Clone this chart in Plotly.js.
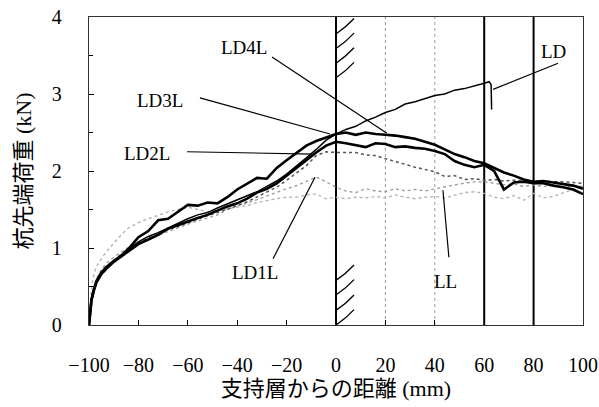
<!DOCTYPE html>
<html>
<head>
<meta charset="utf-8">
<script src="https://cdn.plot.ly/plotly-3.0.1.min.js"></script>
<style>html,body{margin:0;padding:0;background:#fff;}#chart{width:599px;height:407px;}</style>
</head>
<body>
<div id="chart"></div>
<script>
// ---- data ----
const xGrid = [
  -100,-99.5,-99,-98,-97,-95,-93,-90,-87,-84,
  -80,-76,-72,-68,-64,-60,-56,-52,-48,-44,
  -40,-36,-32,-28,-24,-20,-16,-12,-8,-4,
  0,4,8,12,16,20,24,28,32,36,
  40,44,48,52,56,60,64,68,72,76,
  80,84,88,92,96,100
];
const ld4l = [
  0,0.2,0.33,0.47,0.57,0.68,0.75,0.83,0.9,0.99,
  1.14,1.22,1.36,1.38,1.47,1.56,1.55,1.59,1.58,1.66,
  1.76,1.84,1.91,1.9,2.04,2.14,2.24,2.33,2.39,2.44,
  2.48,2.5,2.47,2.5,2.48,2.47,2.46,2.44,2.42,2.38,
  2.34,2.28,2.22,2.18,2.13,2.1,2.04,1.98,1.94,1.89,
  1.86,1.87,1.85,1.83,1.81,1.77
];
const ld3l = [
  0,0.19,0.32,0.45,0.55,0.66,0.73,0.82,0.89,0.96,
  1.05,1.11,1.17,1.25,1.3,1.34,1.39,1.43,1.49,1.54,
  1.58,1.64,1.72,1.77,1.84,1.94,2.05,2.14,2.24,2.33,
  2.38,2.36,2.33,2.31,2.36,2.35,2.31,2.32,2.3,2.29,
  2.26,2.22,2.13,2.08,2.05,2.08,2.0,1.76,1.85,1.86,
  1.84,1.84,1.81,1.79,1.76,1.7
];
const ldX = [
  -100,-99.5,-99,-98,-97,-95,-93,-90,-87,-84,
  -80,-76,-72,-68,-64,-60,-56,-52,-48,-44,
  -40,-36,-32,-28,-24,-20,-16,-12,-8,-4,
  0,4,8,12,16,20,24,28,32,36,
  40,44,48,52,56,60,62,62.8,63
];
const ldY = [
  0,0.19,0.33,0.46,0.56,0.67,0.74,0.83,0.9,0.98,
  1.08,1.15,1.2,1.26,1.33,1.38,1.43,1.46,1.52,1.57,
  1.62,1.67,1.73,1.8,1.87,1.96,2.06,2.17,2.28,2.4,
  2.48,2.54,2.58,2.65,2.7,2.76,2.8,2.87,2.9,2.94,
  2.98,3.0,3.05,3.07,3.1,3.14,3.16,3.12,2.8
];
const ld2l = [
  0,0.2,0.34,0.47,0.57,0.68,0.76,0.84,0.92,0.99,
  1.07,1.13,1.18,1.24,1.28,1.33,1.38,1.42,1.46,1.5,
  1.55,1.6,1.66,1.72,1.79,1.88,1.97,2.07,2.2,2.25,
  2.24,2.24,2.24,2.21,2.2,2.16,2.12,2.08,2.05,2.02,
  1.99,1.93,1.94,1.89,1.9,1.88,1.89,1.87,1.88,1.87,
  1.87,1.87,1.86,1.86,1.85,1.84
];
const ld1l = [
  0,0.21,0.36,0.5,0.6,0.72,0.8,0.88,0.95,1.01,
  1.07,1.12,1.17,1.22,1.27,1.31,1.35,1.39,1.43,1.5,
  1.55,1.58,1.63,1.68,1.72,1.77,1.81,1.86,1.92,1.86,
  1.79,1.74,1.72,1.77,1.74,1.73,1.77,1.74,1.76,1.74,
  1.77,1.79,1.82,1.84,1.86,1.86,1.84,1.82,1.83,1.8,
  1.82,1.8,1.81,1.79,1.81,1.8
];
const ll = [
  0,0.3,0.5,0.66,0.76,0.86,0.95,1.06,1.17,1.26,
  1.33,1.38,1.43,1.47,1.5,1.53,1.5,1.47,1.49,1.51,
  1.53,1.55,1.59,1.62,1.64,1.66,1.66,1.69,1.7,1.64,
  1.66,1.64,1.66,1.65,1.67,1.65,1.69,1.66,1.64,1.66,
  1.67,1.65,1.69,1.72,1.73,1.71,1.66,1.64,1.68,1.62,
  1.71,1.65,1.67,1.72,1.76,1.78
];
const xTicks = [-100,-80,-60,-40,-20,0,20,40,60,80,100];
const yTicks = [0,1,2,3,4];
const solidBoundX = [0,60,80];
const dottedBoundX = [20,40];

// labels and leader lines (data coordinates)
const labelText = ['LD4L','LD3L','LD2L','LD1L','LL','LD'];
const labelX = [-37.2,-71.3,-76.5,-32.8,44.5,87.9];
const labelY = [3.61,2.92,2.23,0.68,0.56,3.55];
const leadX0 = [-25.9,-55.1,-60.3,-25.5,45.7,89.9];
const leadY0 = [3.48,2.95,2.25,0.86,0.88,3.40];
const leadX1 = [20.6,-2.4,-9.7,-8.5,43.3,63.6];
const leadY1 = [2.49,2.48,2.22,1.92,1.75,3.06];

const serif = '"Liberation Serif", "Times New Roman", serif';
const cjk = '"Liberation Serif", "Noto Sans CJK JP", serif';

const traces = [
  {x: xGrid, y: ll, name: 'LL', mode: 'lines', line: {color: '#b0b0b0', width: 1.3, dash: 'dot'}},
  {x: xGrid, y: ld1l, name: 'LD1L', mode: 'lines', line: {color: '#9a9a9a', width: 1.3, dash: 'dot'}},
  {x: xGrid, y: ld2l, name: 'LD2L', mode: 'lines', line: {color: '#555', width: 1.5, dash: 'dot'}},
  {x: ldX, y: ldY, name: 'LD', mode: 'lines', line: {color: '#000', width: 1.5}},
  {x: xGrid, y: ld3l, name: 'LD3L', mode: 'lines', line: {color: '#000', width: 2.6}},
  {x: xGrid, y: ld4l, name: 'LD4L', mode: 'lines', line: {color: '#000', width: 2.6}}
];

const shapes = [];
solidBoundX.forEach(v => shapes.push({type:'line', xref:'x', yref:'paper', x0:v, x1:v, y0:0, y1:1, layer:'below', line:{color:'#000', width:2}}));
dottedBoundX.forEach(v => shapes.push({type:'line', xref:'x', yref:'paper', x0:v, x1:v, y0:0, y1:1, layer:'below', line:{color:'#999', width:1, dash:'dot'}}));
// hatching marks on the x=0 boundary (decoration)
const hatchTop = [3.21, 3.40, 3.59, 3.78];
const hatchBottom = [0.0, 0.19, 0.39, 0.58];
hatchTop.concat(hatchBottom).forEach(y0 => {
  const y1 = y0 + 0.2;
  shapes.push({type:'path', xref:'x', yref:'y',
    path: 'M 0,' + y0 + ' Q 4,' + (y0 + 0.085) + ' 7.3,' + y1,
    line:{color:'#000', width:1.3}});
});
labelText.forEach((t, i) => shapes.push({type:'line', xref:'x', yref:'y',
  x0: leadX0[i], y0: leadY0[i], x1: leadX1[i], y1: leadY1[i], line:{color:'#000', width:1.2}}));

const annotations = labelText.map((t, i) => ({
  x: labelX[i], y: labelY[i], xref:'x', yref:'y', text: t, showarrow: false,
  font: {family: serif, size: 19, color: '#000'}
}));

const layout = {
  width: 599, height: 407,
  margin: {l: 89, r: 16, t: 17, b: 82},
  paper_bgcolor: '#fff', plot_bgcolor: '#fff',
  showlegend: false,
  xaxis: {
    range: [-100, 100], tickvals: xTicks, ticks: 'inside', ticklen: 5, tickcolor: '#000',
    showline: true, mirror: true, linecolor: '#333', linewidth: 1.3,
    showgrid: false, zeroline: false, ticklabelstandoff: 22,
    tickfont: {family: serif, size: 20, color: '#000'},
    title: {text: '支持層からの距離 (mm)', font: {family: cjk, size: 22, color: '#000'}, standoff: 5}
  },
  yaxis: {
    range: [0, 4], tickvals: yTicks, ticks: 'inside', ticklen: 5, tickcolor: '#000',
    minor: {dtick: 0.5, ticks: 'inside', ticklen: 4, tickcolor: '#000', showgrid: false},
    showline: true, mirror: true, linecolor: '#333', linewidth: 1.3,
    showgrid: false, zeroline: false, ticklabelstandoff: 22,
    tickfont: {family: serif, size: 20, color: '#000'},
    title: {text: '杭先端荷重 (kN)', font: {family: cjk, size: 22, color: '#000'}, standoff: 14}
  },
  shapes: shapes,
  annotations: annotations
};

Plotly.newPlot('chart', traces, layout, {displayModeBar: false, staticPlot: true});
</script>
</body>
</html>
